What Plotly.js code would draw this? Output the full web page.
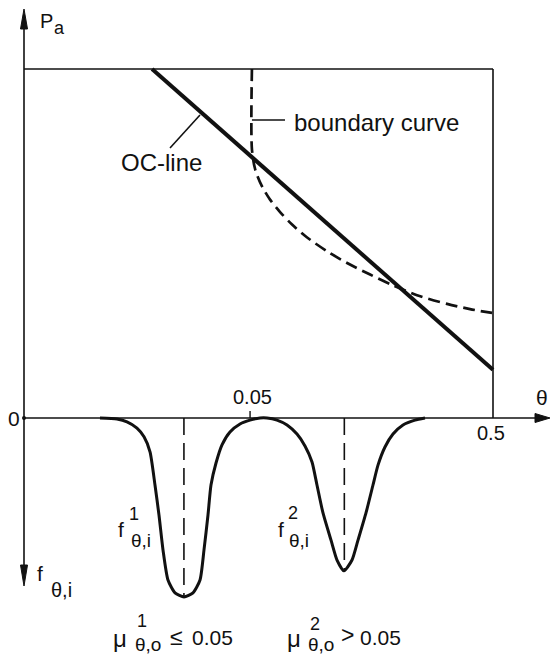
<!DOCTYPE html>
<html>
<head>
<meta charset="utf-8">
<script src="https://cdn.plot.ly/plotly-3.0.1.min.js"></script>
<style>html,body{margin:0;padding:0;background:#fff;}#chart{width:552px;height:657px;}</style>
</head>
<body>
<div id="chart"></div>
<script>
// ---- data (schematic units: theta-axis 0..100 = box width, Pa 0..1, density negative = downward) ----
const ocTheta = [27.3, 100];
const ocPa = [1.0, 0.138];

const bndTheta = [48.6, 48.6, 49.3, 50.7, 52.5, 54.6, 57.1, 60.3, 64.6, 68.9, 73.8, 78.7, 83.8, 90.2, 95.1, 99.8];
const bndPa    = [1.0, 0.770, 0.712, 0.665, 0.625, 0.590, 0.555, 0.518, 0.478, 0.444, 0.411, 0.380, 0.352, 0.327, 0.312, 0.301];

const fTheta = [16.20, 19.83, 21.96, 24.09, 25.59, 26.87, 27.93, 28.78, 29.64, 30.70, 32.20, 34.12, 36.03, 37.53, 38.38, 39.23,
                39.87, 40.94, 42.22, 43.92, 46.06, 48.19, 50.32, 51.81, 53.94, 56.08, 58.21, 59.91, 61.41, 62.47, 63.75,
                65.46, 66.74, 68.23, 69.94, 71.22, 72.92, 74.41, 75.48, 76.97, 78.68, 80.81, 83.37, 85.50];
const fDensity = [0, -0.003, -0.011, -0.029, -0.054, -0.097, -0.192, -0.278, -0.378, -0.464, -0.501, -0.513, -0.501, -0.464, -0.378, -0.278,
                  -0.192, -0.129, -0.077, -0.040, -0.017, -0.006, 0, 0, -0.006, -0.020, -0.046, -0.080, -0.126, -0.192, -0.272,
                  -0.350, -0.407, -0.438, -0.407, -0.350, -0.272, -0.192, -0.135, -0.083, -0.046, -0.020, -0.006, 0];

const meanTheta = [34.1, 68.3];
const meanDepth = [-0.513, -0.438];

const tickPos = [0, 48.2, 100];
const tickLabels = ["0", "0.05", "0.5"];

// ---- layout helpers (pixel -> data, for label placement only) ----
const X0 = 24, XS = 4.69, Y0 = 418, YS = 349;
const U = px => (px - X0) / XS;
const V = py => (Y0 - py) / YS;
const FONT = "Liberation Sans, Arial, Helvetica, sans-serif";
const INK = "#111";

const traces = [
  {x: ocTheta, y: ocPa, mode: "lines", line: {color: INK, width: 4}},
  {x: bndTheta, y: bndPa, mode: "lines", line: {color: INK, width: 2.7, dash: "12px,6px", shape: "spline", smoothing: 0.8}},
  {x: fTheta, y: fDensity, mode: "lines", line: {color: INK, width: 3, shape: "spline", smoothing: 0.6}},
];
meanTheta.forEach((m, i) => traces.push({x: [m, m], y: [0, meanDepth[i]], mode: "lines",
  line: {color: INK, width: 1.6, dash: "17px,8px"}}));

function seg(x0, y0, x1, y1, w) {
  return {type: "line", xref: "x", yref: "y", x0, y0, x1, y1, line: {color: INK, width: w || 1.6}};
}
function tri(pts) {
  const d = pts.map((p, i) => (i ? "L" : "M") + U(p[0]) + "," + V(p[1])).join(" ") + " Z";
  return {type: "path", xref: "x", yref: "y", path: d, fillcolor: INK, line: {color: INK, width: 1}};
}
const shapes = [
  // axes
  seg(0, V(22), 0, V(570)),
  seg(0, 0, U(538), 0),
  // box
  seg(0, 1, tickPos[2], 1),
  seg(tickPos[2], 1, tickPos[2], 0),
  // tick at 0.05
  seg(tickPos[1], 0, tickPos[1], V(411), 1.4),
  // arrowheads
  tri([[24, 9], [20.5, 29], [27.5, 29]]),
  tri([[550, 418], [535, 413.5], [535, 422.5]]),
  tri([[24, 586], [20.5, 565], [27.5, 565]]),
  // pointer lines
  seg(U(200), V(115), U(170), V(148), 1.6),
  seg(bndTheta[0], V(120), U(285), V(120), 1.6),
  // origin dot
  {type: "circle", xref: "x", yref: "y", x0: U(22), x1: U(26), y0: V(416), y1: V(420), fillcolor: INK, line: {width: 0}},
];

function txt(px, py, text, size, xanchor) {
  return {x: U(px), y: V(py), xref: "x", yref: "y", text, showarrow: false,
    xanchor: xanchor || "center", yanchor: "middle", font: {family: FONT, size, color: INK}};
}
const annotations = [
  txt(46, 21, "P", 20), txt(59, 28, "a", 18),
  txt(161, 162, "OC-line", 24),
  txt(292, 122, "boundary curve", 24, "left"),
  txt(14, 418, tickLabels[0], 21),
  txt(252, 397, tickLabels[1], 20),
  txt(491, 433, tickLabels[2], 20),
  txt(542, 397, "θ", 21),
  // f_theta,i at axis
  txt(40, 573, "f", 21), txt(49, 590, "θ,i", 20, "left"),
  // dip labels
  txt(121, 529, "f", 21), txt(134, 514, "1", 18), txt(129, 540, "θ,i", 19, "left"),
  txt(281, 529, "f", 21), txt(293, 513, "2", 18), txt(287, 540, "θ,i", 19, "left"),
  // mean labels
  txt(120, 638, "μ", 24), txt(142, 621, "1", 18), txt(133, 644, "θ,o", 19, "left"),
  txt(176, 637, "≤", 23), txt(190, 637, "0.05", 21, "left"),
  txt(294, 638, "μ", 24), txt(315, 624, "2", 18), txt(306, 644, "θ,o", 19, "left"),
  txt(347, 635, ">", 23), txt(358, 637, "0.05", 21, "left"),
];

const layout = {
  width: 552, height: 657,
  margin: {l: 0, r: 0, t: 0, b: 0},
  paper_bgcolor: "#fff", plot_bgcolor: "#fff",
  showlegend: false,
  xaxis: {range: [U(0), U(552)], visible: false, fixedrange: true},
  yaxis: {range: [V(657), V(0)], visible: false, fixedrange: true},
  shapes, annotations,
};
Plotly.newPlot("chart", traces, layout, {staticPlot: true, displayModeBar: false});
</script>
</body>
</html>
